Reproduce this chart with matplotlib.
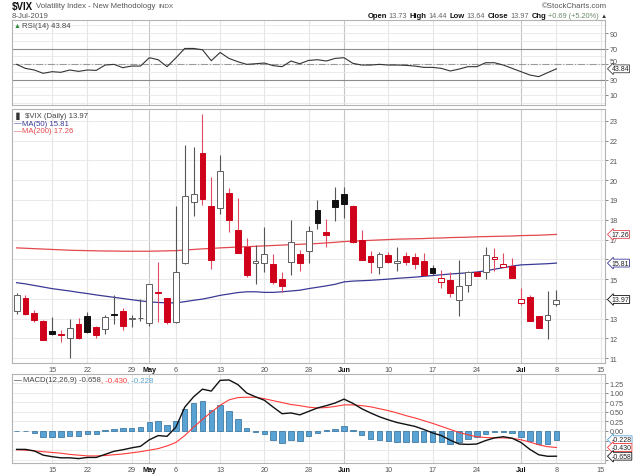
import numpy as np
import pandas as pd
import matplotlib
matplotlib.use("Agg")
import matplotlib.pyplot as plt
import matplotlib.transforms as mtrans

plt.rcParams['font.family'] = ['Liberation Sans', 'DejaVu Sans']

# ---------------- data ----------------
holidays = ["2019-04-19", "2019-05-27", "2019-07-04"]
first_day = "2019-04-09"

opens = [13.37, 14.03, 13.31, 12.90, 12.39, 12.21, 12.04, 12.71, 13.14, 12.58,
         12.48, 13.22, 13.39, 12.98, 13.02, 12.78, 14.30, 14.03, 12.82, 15.80,
         18.89, 21.36, 18.72, 18.58, 19.34, 17.49, 16.64, 15.82, 15.80, 15.78,
         14.99, 15.85, 16.27, 16.44, 18.50, 17.40, 19.00, 19.31, 18.68, 17.00,
         16.19, 15.60, 16.22, 15.80, 16.19, 16.10, 15.92, 15.55, 14.84, 14.97,
         13.95, 14.70, 15.38, 15.34, 16.04, 15.63, 15.65, 13.78, 14.10, 13.12,
         12.95, 13.73]
highs = [14.30, 14.20, 13.46, 12.95, 13.07, 12.45, 12.98, 13.02, 13.32, 12.61,
         13.19, 14.22, 13.52, 13.19, 14.00, 14.76, 15.88, 14.06, 18.72, 21.79,
         21.67, 23.35, 20.15, 21.25, 19.59, 19.09, 17.10, 16.74, 17.62, 16.26,
         15.38, 18.01, 16.47, 17.71, 19.00, 18.04, 19.65, 19.68, 18.75, 17.46,
         16.44, 16.39, 16.39, 16.61, 16.36, 16.32, 16.32, 15.72, 15.48, 15.35,
         15.97, 15.41, 15.40, 16.64, 16.56, 16.32, 16.05, 14.57, 14.20, 13.12,
         14.40, 14.44]
lows = [13.25, 13.20, 12.85, 11.92, 12.18, 11.80, 11.00, 11.98, 12.30, 12.00,
        12.23, 12.71, 12.41, 12.56, 12.90, 12.65, 12.85, 12.72, 12.80, 15.75,
        18.21, 18.75, 15.51, 18.30, 17.37, 16.32, 15.09, 14.76, 15.38, 14.74,
        14.37, 15.21, 15.43, 15.80, 17.54, 16.64, 17.96, 18.11, 16.85, 15.99,
        15.31, 15.26, 15.82, 15.43, 15.72, 15.51, 15.14, 15.21, 14.54, 14.08,
        13.12, 14.37, 15.15, 15.01, 15.41, 15.60, 15.04, 13.71, 12.87, 12.51,
        11.97, 13.64]
closes = [14.20, 13.22, 12.95, 11.94, 12.23, 12.17, 12.55, 12.01, 12.34, 12.19,
          13.07, 13.17, 12.65, 13.03, 13.06, 14.74, 14.36, 12.82, 15.35, 19.22,
          19.31, 19.06, 15.97, 20.47, 17.99, 16.32, 15.21, 15.92, 16.27, 14.87,
          14.67, 16.86, 15.80, 17.42, 17.84, 17.23, 18.67, 18.80, 16.90, 15.99,
          15.85, 16.27, 15.85, 15.94, 15.89, 15.75, 15.21, 15.29, 15.08, 14.30,
          14.67, 15.38, 15.18, 16.22, 16.14, 15.77, 15.04, 14.00, 12.87, 12.51,
          13.19, 13.97]
ma50 = [14.82, 14.76, 14.68, 14.60, 14.52, 14.46, 14.40, 14.33, 14.27, 14.20,
        14.14, 14.08, 14.02, 13.96, 13.90, 13.85, 13.82, 13.80, 13.80, 13.86,
        13.93, 13.99, 14.08, 14.18, 14.25, 14.32, 14.36, 14.36, 14.33, 14.33,
        14.36, 14.40, 14.44, 14.52, 14.59, 14.66, 14.74, 14.86, 14.90, 14.92,
        14.94, 14.97, 15.00, 15.04, 15.07, 15.10, 15.14, 15.18, 15.22, 15.26,
        15.29, 15.32, 15.36, 15.42, 15.50, 15.58, 15.66, 15.72, 15.74, 15.76,
        15.78, 15.81]
ma200 = [16.58, 16.56, 16.54, 16.52, 16.50, 16.48, 16.46, 16.45, 16.44, 16.43,
         16.42, 16.42, 16.41, 16.41, 16.41, 16.41, 16.42, 16.43, 16.44, 16.47,
         16.50, 16.53, 16.55, 16.58, 16.60, 16.62, 16.64, 16.66, 16.68, 16.70,
         16.72, 16.74, 16.76, 16.78, 16.80, 16.83, 16.86, 16.90, 16.92, 16.94,
         16.96, 16.98, 17.00, 17.02, 17.03, 17.04, 17.05, 17.07, 17.08, 17.10,
         17.11, 17.12, 17.14, 17.15, 17.16, 17.17, 17.18, 17.20, 17.21, 17.22,
         17.24, 17.26]
rsi = [49.6, 44.4, 42.3, 38.0, 40.1, 39.3, 42.3, 40.5, 42.3, 41.8,
       48.7, 49.6, 45.3, 47.4, 47.4, 58.2, 55.6, 46.6, 58.0, 70.2,
       70.2, 68.5, 54.3, 65.0, 57.3, 53.0, 49.6, 50.4, 51.3, 47.9,
       46.6, 53.9, 50.4, 54.7, 55.6, 53.9, 57.3, 58.2, 50.9, 48.7,
       48.7, 49.6, 48.7, 48.7, 48.3, 47.4, 45.7, 45.7, 44.4, 41.0,
       43.5, 46.6, 46.6, 51.7, 51.7, 48.7, 44.4, 40.1, 35.8, 33.7,
       38.8, 43.84]
macd = [-0.48, -0.48, -0.52, -0.63, -0.67, -0.70, -0.70, -0.72, -0.69, -0.69,
        -0.61, -0.53, -0.49, -0.44, -0.40, -0.23, -0.12, -0.14, 0.10, 0.62,
        0.89, 1.09, 1.04, 1.32, 1.33, 1.21, 0.99, 0.89, 0.80, 0.62,
        0.45, 0.47, 0.42, 0.51, 0.60, 0.66, 0.73, 0.83, 0.72, 0.58,
        0.47, 0.37, 0.29, 0.22, 0.17, 0.12, 0.04, -0.05, -0.12, -0.24,
        -0.34, -0.35, -0.34, -0.25, -0.18, -0.15, -0.19, -0.30, -0.48, -0.62,
        -0.66, -0.658]
signal = [-0.49, -0.50, -0.52, -0.54, -0.56, -0.58, -0.61, -0.63, -0.65, -0.65,
          -0.64, -0.62, -0.60, -0.57, -0.54, -0.50, -0.46, -0.39, -0.30, -0.12,
          0.10, 0.30, 0.49, 0.67, 0.81, 0.87, 0.88, 0.88, 0.84, 0.79,
          0.74, 0.69, 0.66, 0.62, 0.60, 0.61, 0.64, 0.68, 0.68, 0.66,
          0.63, 0.58, 0.53, 0.47, 0.40, 0.34, 0.27, 0.20, 0.12, 0.04,
          -0.04, -0.10, -0.15, -0.17, -0.18, -0.18, -0.19, -0.23, -0.29, -0.36,
          -0.41, -0.43]
hist = [0.00, 0.00, -0.05, -0.15, -0.17, -0.17, -0.12, -0.14, -0.08, -0.07,
        0.03, 0.05, 0.07, 0.09, 0.11, 0.23, 0.26, 0.16, 0.26, 0.58,
        0.74, 0.77, 0.55, 0.68, 0.53, 0.32, 0.07, -0.02, -0.09, -0.23,
        -0.32, -0.23, -0.25, -0.14, -0.05, 0.02, 0.06, 0.12, 0.03, -0.10,
        -0.21, -0.23, -0.27, -0.28, -0.28, -0.28, -0.28, -0.29, -0.29, -0.33,
        -0.28, -0.21, -0.17, -0.07, -0.03, -0.03, -0.05, -0.17, -0.25, -0.34,
        -0.34, -0.228]

tick_dates = ["2019-04-15", "2019-04-22", "2019-04-29", "2019-05-01", "2019-05-06",
              "2019-05-13", "2019-05-20", "2019-05-28", "2019-06-03", "2019-06-10",
              "2019-06-17", "2019-06-24", "2019-07-01", "2019-07-08", "2019-07-15"]
tick_labels = ["15", "22", "29", "May", "6", "13", "20", "28", "Jun", "10",
               "17", "24", "Jul", "8", "15"]
month_labels = ["May", "Jun", "Jul"]
price_ticks = list(range(11, 24))
price_hidden = [14, 16]          # labels covered by value tags in the reference
rsi_ticks = [10, 30, 50, 70, 90]
macd_ticks = [-0.75, -0.5, -0.25, 0.0, 0.25, 0.5, 0.75, 1.0, 1.25]

# ---------------- setup ----------------
cal = pd.bdate_range(first_day, "2019-07-31", freq="C", holidays=holidays)
n = len(closes)
x = np.arange(n)
tick_pos = [cal.get_loc(pd.Timestamp(d)) for d in tick_dates]

o = np.array(opens); h = np.array(highs); l = np.array(lows); c = np.array(closes)

W, H = 640, 477
fig = plt.figure(figsize=(6.4, 4.77), dpi=100)
fig.patch.set_facecolor('white')


def rect(x0, y0, x1, y1):
    return [x0 / W, 1 - y1 / H, (x1 - x0) / W, (y1 - y0) / H]


ax_rsi = fig.add_axes(rect(12, 21, 605, 106))
ax_main = fig.add_axes(rect(12, 110, 605, 364))
ax_macd = fig.add_axes(rect(12, 375, 605, 464))

XL = (-0.52, 66.49)
for ax in (ax_rsi, ax_main, ax_macd):
    ax.set_xlim(*XL)
    for p, lab in zip(tick_pos, tick_labels):
        ax.axvline(p, color='#c6c6c6' if lab in month_labels else '#e6e6e6', lw=0.8, zorder=0)
    for s in ax.spines.values():
        s.set_color('#b4b4b4')
        s.set_linewidth(0.8)
    ax.yaxis.tick_right()
    ax.tick_params(axis='y', labelsize=5.2, colors='#555555', length=2, width=0.5, pad=1.5)
    ax.tick_params(axis='x', length=0, labelsize=5.2, colors='#555555', pad=2)
    ax.set_xticks(tick_pos)
    ax.set_xticklabels(tick_labels)
    for t in ax.get_xticklabels():
        if t.get_text() in month_labels:
            t.set_fontweight('bold')
            t.set_color('#111111')
ax_rsi.set_xticklabels([])

# ---------------- RSI ----------------
ax_rsi.set_ylim(-3, 107)
for v in range(0, 110, 10):
    ax_rsi.axhline(v, color='#e8e8e8', lw=0.6, zorder=0)
ax_rsi.axhline(70, color='#8c8c8c', lw=0.8, zorder=1)
ax_rsi.axhline(30, color='#8c8c8c', lw=0.8, zorder=1)
ax_rsi.axhline(50, color='#9a9a9a', lw=0.8, ls='-.', zorder=1)
ax_rsi.plot(x, rsi, color='#333333', lw=0.8, zorder=3)
ax_rsi.set_yticks(rsi_ticks)
ax_rsi.set_yticklabels([str(v) for v in rsi_ticks])
# the "50" label sits just above the value tag, as in the reference
for t in ax_rsi.get_yticklabels():
    if t.get_text() == '50':
        t.set_transform(t.get_transform() + mtrans.ScaledTranslation(0, 2.5 / 72, fig.dpi_scale_trans))

# ---------------- price ----------------
ax_main.set_ylim(10.76, 23.6)
for v in price_ticks:
    ax_main.axhline(v, color='#e6e6e6', lw=0.6, zorder=0)
ax_main.plot(x, ma200, color='#e2484e', lw=0.9, zorder=2)
ax_main.plot(x, ma50, color='#3a3a96', lw=0.9, zorder=2)

RED = '#d0021b'
prev = np.r_[np.nan, c[:-1]]
is_red = c < prev
filled = c < o
face, edge, wick = [], [], []
for i in range(n):
    if is_red[i]:
        face.append(RED if filled[i] else 'white')
        edge.append(RED)
        wick.append('#e04a62')
    else:
        face.append('#111111' if filled[i] else 'white')
        edge.append('#111111' if filled[i] else '#606060')
        wick.append('#555555')
body_lo = np.minimum(o, c)
body_h = np.maximum(np.abs(c - o), 0.04)
ax_main.vlines(x, l, h, colors=wick, lw=0.8, zorder=3)
ax_main.bar(x, body_h, bottom=body_lo, width=0.66, color=face, edgecolor=edge, lw=0.7, zorder=4)
ax_main.set_yticks(price_ticks)
ax_main.set_yticklabels(['' if v in price_hidden else str(v) for v in price_ticks])

# ---------------- MACD ----------------
ax_macd.set_ylim(-0.835, 1.485)
for v in np.arange(-0.75, 1.5, 0.25):
    ax_macd.axhline(v, color='#e8e8e8', lw=0.6, zorder=0)
ax_macd.bar(x, hist, width=0.62, color='#58a3d4', edgecolor='#2a6b98', lw=0.5, zorder=2)
ax_macd.plot(x, signal, color='#ff3a3a', lw=0.8, zorder=3)
ax_macd.plot(x, macd, color='#111111', lw=1.0, zorder=4)
ax_macd.set_yticks(macd_ticks)
ax_macd.set_yticklabels(['' if v < 0 else '%.2f' % v for v in macd_ticks])


# ---------------- value tags on the right ----------------
def tag(ax, val, text, ec, tc='#222222'):
    tr = mtrans.blended_transform_factory(ax.transAxes, ax.transData)
    ax.text(1.0 + 6.5 / 593, val, text, transform=tr, fontsize=5.0, color=tc, va='center', ha='left',
            bbox=dict(boxstyle='larrow,pad=0.06', fc='white', ec=ec, lw=0.6), zorder=20, clip_on=False)


tag(ax_rsi, rsi[-1], '%.2f' % rsi[-1], '#444444')
tag(ax_main, ma200[-1], '%.2f' % ma200[-1], '#e2484e')
tag(ax_main, ma50[-1], '%.2f' % ma50[-1], '#3a3a96')
tag(ax_main, closes[-1], '%.2f' % closes[-1], '#111111')
tag(ax_macd, hist[-1], '%.3f' % hist[-1], '#58a3d4')
tag(ax_macd, signal[-1], '%.3f' % signal[-1], '#ff3a3a')
tag(ax_macd, macd[-1], '%.3f' % macd[-1], '#111111')

# ---------------- texts ----------------
renderer = fig.canvas.get_renderer()


def seq(xp, yp, parts, ha='left'):
    objs, widths = [], []
    for txt, kw, gap in parts:
        t = fig.text(0, 0, txt, va='center', ha='left', **kw)
        objs.append(t)
        widths.append(t.get_window_extent(renderer).width + gap)
    total = sum(widths)
    cx = xp if ha == 'left' else xp - total
    for t, w in zip(objs, widths):
        t.set_position((cx / W, 1 - yp / H))
        cx += w


GR = '#555555'
seq(12, 7, [("$VIX", dict(fontsize=7, fontweight='bold', color='#111111'), 3),
            ("Volatility Index - New Methodology", dict(fontsize=5.6, color=GR), 3),
            ("INDX", dict(fontsize=4.6, color=GR), 0)])
seq(12, 16, [("8-Jul-2019", dict(fontsize=5.6, color=GR), 0)])
seq(607, 7, [("\u00a9StockCharts.com", dict(fontsize=5.6, color=GR), 0)], ha='right')
B = dict(fontsize=5.5, fontweight='bold', color='#111111')
N = dict(fontsize=5.3, color='#666666')
seq(607, 16, [("Open", B, 2), ("%.2f" % opens[-1], N, 2.5),
              ("High", B, 2), ("%.2f" % highs[-1], N, 2.5),
              ("Low", B, 2), ("%.2f" % lows[-1], N, 2.5),
              ("Close", B, 2), ("%.2f" % closes[-1], N, 2.5),
              ("Chg", B, 2), ("+0.69 (+5.20%)", dict(fontsize=5.3, color='#6a8a6a'), 2),
              ("\u25b2", dict(fontsize=4.5, color='#333333'), 0)], ha='right')

L = dict(fontsize=5.6, color='#444444')
seq(14, 27, [("\u25b2", dict(fontsize=5, color='#2e8b3a'), 1), ("RSI(14) %.2f" % rsi[-1], L, 0)])
seq(14, 116, [("\u2590\u258c", dict(fontsize=4.5, color='#333333'), 2), ("$VIX (Daily) %.2f" % closes[-1], L, 0)])
seq(14, 124, [("\u2014", dict(fontsize=5.6, color='#3a3a96'), 0), ("MA(50) %.2f" % ma50[-1], dict(fontsize=5.6, color='#3a3a96'), 0)])
seq(14, 132, [("\u2014", dict(fontsize=5.6, color='#e2484e'), 0), ("MA(200) %.2f" % ma200[-1], dict(fontsize=5.6, color='#e2484e'), 0)])
seq(14, 381, [("\u2014", dict(fontsize=5.6, color='#111111'), 1),
              ("MACD(12,26,9) %.3f" % macd[-1], L, 0),
              (", %.3f" % signal[-1], dict(fontsize=5.6, color='#ff3a3a'), 0),
              (", %.3f" % hist[-1], dict(fontsize=5.6, color='#58a3d4'), 0)])

fig.savefig("out.png", dpi=100)
